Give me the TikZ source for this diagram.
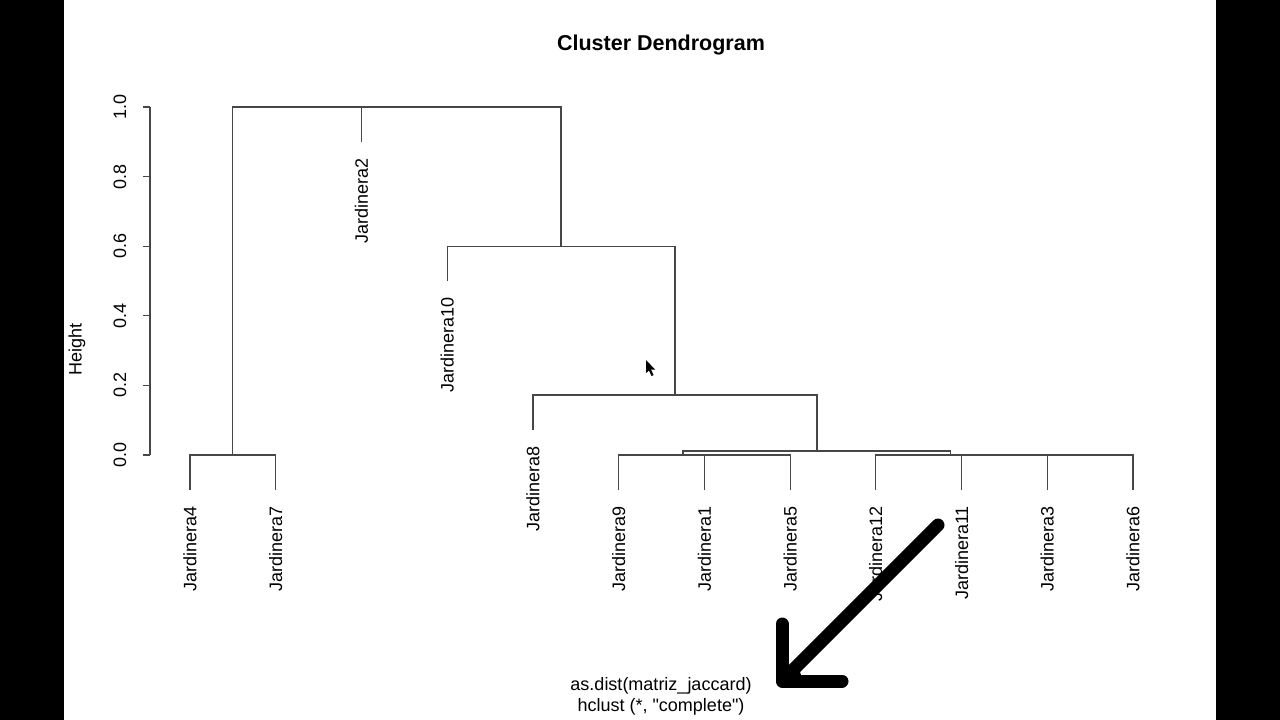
\documentclass[tikz,border=0pt]{standalone}
\usepackage{fontspec}
\setmainfont{Liberation Sans}[Ligatures=TeXOff]
\begin{document}
\begin{tikzpicture}[x=1pt,y=-1pt,
  tree/.style={draw=black!72, line width=1.2pt},
  lbl/.style={rotate=90, anchor=east, inner sep=0pt, font=\fontsize{18}{20}\selectfont},
  tick/.style={rotate=90, inner sep=0pt, font=\fontsize{18}{20}\selectfont},
  bigarrow/.style={draw=black, line width=13pt, line cap=round, line join=round}]
\useasboundingbox (0,0) rectangle (1280,720);
\fill[white] (0,0) rectangle (1280,720);
\fill[black] (0,0) rectangle (64,720);
\fill[black] (1216,0) rectangle (1280,720);

% title and subtitle
\node[font=\fontsize{21.5}{24}\selectfont\bfseries] (title) at (661,45) {Cluster Dendrogram};
\node[font=\fontsize{18}{20}\selectfont] (sub1) at (661,686) {as.dist(matriz\_jaccard)};
\node[font=\fontsize{18}{20}\selectfont] (sub2) at (661,707) {hclust (*, "complete")};

% y axis
\coordinate (ax0) at (150,455);
\coordinate (ax1) at (150,107);
\draw[tree] (ax0) -- (ax1);
\foreach \v/\y/\k in {0.0/455/0,0.2/385.4/1,0.4/315.8/2,0.6/246.2/3,0.8/176.6/4,1.0/107/5}{
  \coordinate (tk\k) at (150,\y);
  \draw[tree] (tk\k) -- ++(-7,0);
  \node[tick] (tl\k) at (120,\y) {\v};
}
\node[tick] (ylab) at (77,349) {Height};

% leaf ends (bottom of hanging segments)
\coordinate (L4)  at (190.0,489.8);
\coordinate (L7)  at (275.7,489.8);
\coordinate (L2)  at (361.5,141.8);
\coordinate (L10) at (447.2,280.8);
\coordinate (L8)  at (532.9,429.8);
\coordinate (L9)  at (618.7,489.8);
\coordinate (L1)  at (704.4,489.8);
\coordinate (L5)  at (790.1,489.8);
\coordinate (L12) at (875.8,489.8);
\coordinate (L11) at (961.6,489.8);
\coordinate (L3)  at (1047.3,489.8);
\coordinate (L6)  at (1133.0,489.8);

% merge points
\coordinate (ma) at (232.85,455);
\coordinate (mb) at (747.25,455);
\coordinate (mc) at (682.98,455);
\coordinate (md) at (1090.15,455);
\coordinate (me) at (1025.88,455);
\coordinate (mf) at (950.84,455);
\coordinate (mg) at (816.91,451);
\coordinate (mh) at (674.9,395);
\coordinate (mi) at (561.05,246.2);
\coordinate (mj) at (461.28,107);
\coordinate (mk) at (347.06,107);

% connectors
\draw[tree] (L4) |- (ma) -| (L7);
\draw[tree] (L1) |- (mb) -| (L5);
\draw[tree] (L9) |- (mc) -| (mb);
\draw[tree] (L3) |- (md) -| (L6);
\draw[tree] (L11) |- (me) -| (md);
\draw[tree] (L12) |- (mf) -| (me);
\draw[tree] (mc) |- (mg) -| (mf);
\draw[tree] (L8) |- (mh) -| (mg);
\draw[tree] (L10) |- (mi) -| (mh);
\draw[tree] (L2) |- (mj) -| (mi);
\draw[tree] (ma) |- (mk) -| (mj);

% leaf labels
\foreach \n in {4,7,2,10,8,9,1,5,12,11,3,6}{
  \node[lbl] (n\n) at ([yshift=-16pt]L\n) {Jardinera\n};
}

% mouse cursor
\fill[black] (646,360) -- (646,373) -- (649,370.5) -- (651.5,376) -- (653.5,375) -- (651,369.5) -- (655,369.5) -- cycle;

% big arrow
\coordinate (arA) at (938,525);
\coordinate (arB) at (784,679);
\coordinate (arC) at (782,624);
\coordinate (arD) at (782,681);
\coordinate (arE) at (842,681);
\draw[bigarrow] (arA) -- (arB);
\draw[bigarrow] (arC) -- (arD) -- (arE);
\fill[black] (782,681) -- (782,660) -- (800,672) -- (803,681) -- cycle;
\end{tikzpicture}
\end{document}
